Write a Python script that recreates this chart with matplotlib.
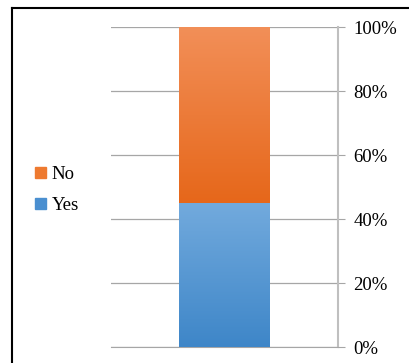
import matplotlib.pyplot as plt
import numpy as np
from matplotlib.colors import LinearSegmentedColormap
from matplotlib.patches import Patch
from matplotlib.ticker import PercentFormatter

categories = ['Yes', 'No']
shares = [45, 55]
colors_top = ['#72aadd', '#f28f58']
colors_bottom = ['#3e86c8', '#e6671a']
legend_colors = ['#4a8fd0', '#ee7a30']

plt.rcParams['font.family'] = ['Liberation Serif', 'DejaVu Serif']

fig = plt.figure(figsize=(4.10, 3.63), dpi=100)
ax = fig.add_axes([111 / 410, 1 - 347 / 363, (338 - 111) / 410, (347 - 27) / 363])

x = 0
width = 0.4
bottom = 0
for cat, val, ct, cb in zip(categories, shares, colors_top, colors_bottom):
    bar = ax.bar(x, val, width, bottom=bottom, color='none', edgecolor='none', zorder=3)[0]
    cmap = LinearSegmentedColormap.from_list(cat, [cb, ct])
    grad = np.linspace(0, 1, 256).reshape(-1, 1)
    im = ax.imshow(grad, cmap=cmap, origin='lower', aspect='auto',
                   extent=[x - width / 2, x + width / 2, bottom, bottom + val], zorder=3)
    im.set_clip_path(bar)
    bottom += val

ax.set_xlim(-0.5, 0.5)
ax.set_ylim(0, 100)
ax.set_yticks(range(0, 101, 20))
ax.yaxis.set_major_formatter(PercentFormatter(decimals=0))
ax.yaxis.tick_right()
ax.tick_params(axis='y', length=5, color='#a6a6a6', labelsize=13.5, pad=6, labelcolor='black')
ax.set_xticks([])
ax.grid(axis='y', color='#a6a6a6', linewidth=0.9, zorder=0)
for side in ['top', 'left']:
    ax.spines[side].set_visible(False)
ax.spines['right'].set_color('#bfbfbf')
ax.spines['right'].set_linewidth(1.5)
ax.spines['bottom'].set_color('#a6a6a6')

handles = [Patch(color=legend_colors[1], label='No'), Patch(color=legend_colors[0], label='Yes')]
fig.legend(handles=handles, loc='center left', bbox_to_anchor=(0.043, 0.477), frameon=False,
           fontsize=13.5, handlelength=0.6, handleheight=0.5, handletextpad=0.3, labelspacing=0.75)

# outer frame (left and top edges)
fig.add_artist(plt.Line2D([12 / 410, 12 / 410], [0, 1 - 8 / 363], color='black', linewidth=1.5))
fig.add_artist(plt.Line2D([12 / 410, 1], [1 - 8 / 363, 1 - 8 / 363], color='black', linewidth=1.5))

fig.savefig('out.png', dpi=100)
